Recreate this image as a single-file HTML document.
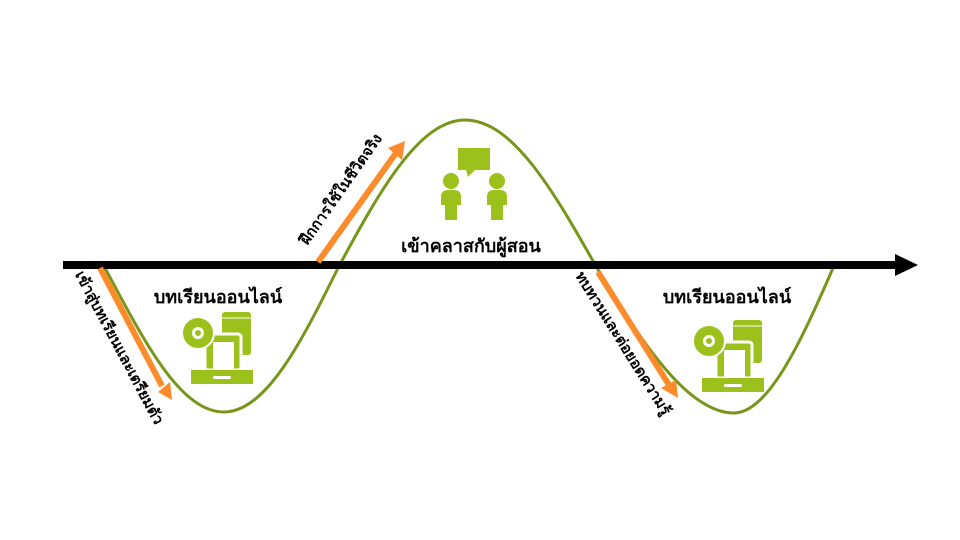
<!DOCTYPE html>
<html><head><meta charset="utf-8"><style>
html,body{margin:0;padding:0;background:#fff;}
svg{display:block}
text{font-family:"Liberation Sans","Noto Sans CJK SC",sans-serif;font-weight:bold;fill:#000}
</style></head><body>
<svg width="960" height="540" viewBox="0 0 960 540" xmlns="http://www.w3.org/2000/svg">
<defs>
<g id="pc">
 <rect x="39" y="0" width="29" height="43" rx="3" fill="#9dc11c"/>
 <rect x="39" y="5" width="29" height="2" fill="#fff" opacity="0.5"/>
 <rect x="22" y="22" width="36" height="36" rx="3" fill="#9dc11c" stroke="#fff" stroke-width="3"/>
 <rect x="30" y="30" width="21" height="28" fill="#fff"/>
 <circle cx="15" cy="21" r="16" fill="#9dc11c" stroke="#fff" stroke-width="2"/>
 <circle cx="15" cy="21" r="6" fill="#fff"/>
 <circle cx="15" cy="21" r="3" fill="#9dc11c"/>
 <path d="M8 58 H70 V72 H8 Z" fill="#9dc11c"/>
 <rect x="30" y="64" width="18" height="3" rx="1.5" fill="#fff"/>
</g>
</defs>
<path d="M105,268 C144,341 180,412 224,412 C266,412 302,341 338,268 C379,192 419,120 465,120 C513,120 554,192 597,268 C641,342 688,413 734,413 C768,413 801,342 833,268" fill="none" stroke="#77961a" stroke-width="3"/>
<rect x="63" y="261" width="836" height="8" fill="#000"/>
<polygon points="895,254 918,265 895,276" fill="#000"/>
<g stroke="#fd8b2b" stroke-width="6" fill="#fd8b2b">
 <line x1="100" y1="268" x2="162" y2="386"/>
 <line x1="318" y1="262" x2="396" y2="153"/>
 <line x1="598" y1="272" x2="669" y2="385"/>
</g>
<polygon points="158,392 172,400 170,382" fill="#fd8b2b"/>
<polygon points="405,141 388,148 402,160" fill="#fd8b2b"/>
<polygon points="678,398 661,388 676,380" fill="#fd8b2b"/>
<text x="115" y="350" font-size="15" text-anchor="middle" transform="rotate(62 115 350)">เข้าสู่บทเรียนและเตรียมตัว</text>
<text x="345" y="192" font-size="15" text-anchor="middle" transform="rotate(-55 345 192)">ฝึกการใช้ในชีวิตจริง</text>
<text x="619" y="346" font-size="15" text-anchor="middle" transform="rotate(58 619 346)">ทบทวนและต่อยอดความรู้</text>
<text x="218" y="303" font-size="18" text-anchor="middle">บทเรียนออนไลน์</text>
<text x="471" y="252" font-size="18" text-anchor="middle">เข้าคลาสกับผู้สอน</text>
<text x="727" y="303" font-size="18" text-anchor="middle">บทเรียนออนไลน์</text>
<use href="#pc" transform="translate(183,312)"/>
<use href="#pc" transform="translate(694,320)"/>
<g fill="#9dc11c">
 <rect x="458" y="148" width="32" height="22"/>
 <polygon points="466,170 475,170 468,177"/>
 <circle cx="451" cy="181" r="8"/>
 <path d="M441 197 Q441 190 448 190 H454 Q461 190 461 197 V205 H457 V220 H445 V205 H441 Z"/>
 <circle cx="497" cy="181" r="8"/>
 <path d="M487 197 Q487 190 494 190 H500 Q507 190 507 197 V205 H503 V220 H491 V205 H487 Z"/>
</g>
</svg>
</body></html>
